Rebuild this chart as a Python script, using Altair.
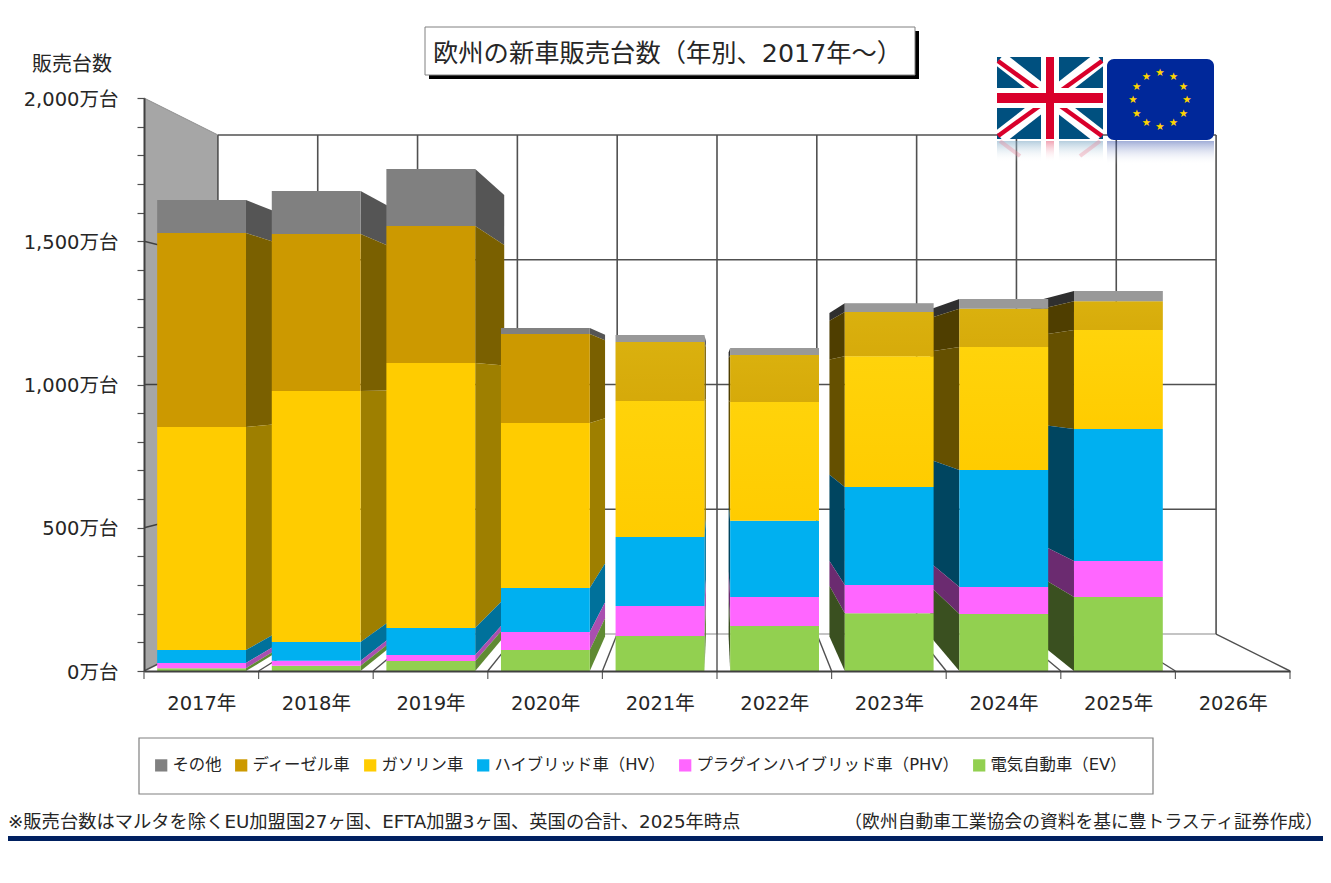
import math
import altair as alt
import pandas as pd

FONT = "DejaVu Sans, Noto Sans CJK JP"

years = [2017, 2018, 2019, 2020, 2021, 2022, 2023, 2024, 2025, 2026]
ev     = [10, 18, 35, 73, 122, 157, 202, 199, 258]
phv    = [18, 18, 21, 63, 105, 101, 98, 94, 126]
hv     = [45, 65, 94, 154, 241, 266, 342, 409, 461]
petrol = [779, 876, 925, 576, 474, 415, 457, 429, 345]
diesel = [677, 548, 478, 310, 206, 164, 154, 133, 101]
other  = [115, 150, 199, 21, 25, 24, 31, 34, 35]

names = ["その他", "ディーゼル車", "ガソリン車", "ハイブリッド車（HV）",
         "プラグインハイブリッド車（PHV）", "電気自動車（EV）"]
colors = ["#808080", "#CC9900", "#FFCC00", "#00B0F0", "#FF66FF", "#92D050"]
side_right = ["#555555", "#7A6000", "#9E7F00", "#00719B", "#A94FB0", "#5F8A33"]
side_left = ["#2F2F2F", "#4F3E00", "#655000", "#004560", "#6B2B70", "#3A5020"]
y_ticks = list(range(0, 2001, 100))

W, H = 1146, 573
OX, OY = 144, 98
BAR_L, BAR_R = 0.115, 0.89
VX, VY = 5.0, 1000.0
BACK, DEPTH = 0.871, 0.88

xs = alt.Scale(domain=[0, 10], nice=False, zero=False)
ys = alt.Scale(domain=[0, 2000], nice=False, zero=False)

x_axis = alt.Axis(
    values=[i + 0.5 for i in range(len(years))], title=None, grid=False, ticks=False,
    labelExpr="toString(2017 + floor(datum.value)) + '年'",
    labelFont=FONT, labelFontSize=19.5, labelColor="#262626", labelPadding=23,
    domainColor="#404040", domainWidth=2, zindex=1, labelFlush=False, labelOverlap=False)
y_axis = alt.Axis(
    values=y_ticks, title=None, grid=False, tickSize=7, tickColor="#505050", tickWidth=1.2,
    labelExpr="datum.value % 500 == 0 ? format(datum.value, ',') + '万台' : ''",
    labelFont=FONT, labelFontSize=19.5, labelColor="#262626", labelPadding=19, labelOffset=1,
    domainColor="#404040", domainWidth=2, zindex=1, labelOverlap=False, labelFlush=False)


def px(v):
    return alt.value(v - OX)


def py(v):
    return alt.value(v - OY)


def pr_x(x, s):
    return VX + (x - VX) * s


def pr_y(y, s):
    return VY + (y - VY) * s


# stacked segments, bottom to top
stack = list(zip(names[::-1], [ev, phv, hv, petrol, diesel, other],
                 side_right[::-1], side_left[::-1]))
front_rows, side_rows = [], []
for i in range(9):
    base = 0
    for name, vals, c_r, c_l in stack:
        lo, hi = base, base + vals[i]
        base = hi
        front_rows.append(dict(x=i + BAR_L, x2=i + BAR_R, y=lo, y2=hi, series=name))
        edge = i + BAR_R if i + 0.5 < VX else i + BAR_L
        shade = c_r if i + 0.5 < VX else c_l
        for s in (1.0, DEPTH):
            side_rows.append(dict(x=pr_x(edge, s), y=pr_y(lo, s), y2=pr_y(hi, s),
                                  seg=f"{i}-{name}", shade=shade))
front = pd.DataFrame(front_rows)
sides = pd.DataFrame(side_rows)

X = alt.X("x:Q", scale=xs, axis=x_axis)
X2 = alt.X2("x2:Q")
Y = alt.Y("y:Q", scale=ys, axis=y_axis, stack=None)
Y2 = alt.Y2("y2:Q")


def rules(rows, color, width):
    return alt.Chart(pd.DataFrame(rows)).mark_rule(color=color, strokeWidth=width).encode(x=X, x2=X2, y=Y, y2=Y2)


# left wall
wall = pd.DataFrame([
    dict(x=0, y=0, y2=2000),
    dict(x=pr_x(0, BACK), y=pr_y(0, BACK), y2=pr_y(2000, BACK)),
])
layers = [alt.Chart(wall).mark_area(color="#A6A6A6", orient="vertical").encode(x=X, y=Y, y2=Y2)]

# back wall and floor
bx0, bx1 = pr_x(0, BACK), pr_x(10, BACK)
grid_h = [dict(x=bx0, x2=bx1, y=pr_y(v, BACK), y2=pr_y(v, BACK)) for v in (500, 1000, 1500, 2000)]
grid_v = [dict(x=pr_x(i, BACK), x2=pr_x(i, BACK), y=pr_y(0, BACK), y2=pr_y(2000, BACK)) for i in range(11)]
floor = [dict(x=i, x2=pr_x(i, BACK), y=0, y2=pr_y(0, BACK)) for i in range(11)]
wall_g = [dict(x=0, x2=bx0, y=v, y2=pr_y(v, BACK)) for v in (500, 1000, 1500)]
layers += [
    rules([dict(x=bx0, x2=bx1, y=pr_y(0, BACK), y2=pr_y(0, BACK))], "#B0B0B0", 1.5),
    rules(grid_h + grid_v, "#505050", 1.6),
    rules(floor, "#505050", 1.4),
    rules(wall_g, "#404040", 1.4),
    rules([dict(x=0, x2=bx0, y=2000, y2=pr_y(2000, BACK))], "#909090", 1),
]

# side faces
for shade in side_right + side_left:
    d = sides[sides["shade"] == shade]
    layers.append(alt.Chart(d).mark_area(color=shade, orient="vertical").encode(
        x=X, y=Y, y2=Y2, detail="seg:N"))

# front faces
legend = alt.Legend(
    orient="none", legendX=153 - OX, legendY=757 - OY, columns=6, title=None,
    symbolType="square", symbolSize=150, symbolStrokeWidth=0, symbolOpacity=1,
    labelFont=FONT, labelFontSize=16.4, labelColor="#262626", labelLimit=400,
    columnPadding=11, labelOffset=3, padding=0,
)
front_chart = alt.Chart(front).mark_bar().encode(
    x=X, x2=X2, y=Y, y2=Y2,
    color=alt.Color("series:N", scale=alt.Scale(domain=names, range=colors), legend=legend),
)
layers.append(front_chart)

# soft sheen on the later bars: diesel and petrol get a warm glow, "other" a pale one
sheen_rows, pale_rows = [], []
for i in range(4, 9):
    below = ev[i] + phv[i] + hv[i]
    top = below + petrol[i] + diesel[i]
    sheen_rows.append(dict(x=i + BAR_L, x2=i + BAR_R, y=top, y2=below))
    pale_rows.append(dict(x=i + BAR_L, x2=i + BAR_R, y=top + other[i], y2=top))
sheen_grad = alt.Gradient(
    gradient="linear", x1=0, x2=0, y1=0, y2=1,
    stops=[alt.GradientStop(color="rgba(255,238,50,0.28)", offset=0),
           alt.GradientStop(color="rgba(255,238,50,0)", offset=1)])
layers.append(alt.Chart(pd.DataFrame(sheen_rows)).mark_bar(color=sheen_grad).encode(x=X, x2=X2, y=Y, y2=Y2))
layers.append(alt.Chart(pd.DataFrame(pale_rows)).mark_bar(color="#FFFFFF", opacity=0.2).encode(x=X, x2=X2, y=Y, y2=Y2))

# x ticks
tick_df = pd.DataFrame({"x": list(range(11))})
layers.append(alt.Chart(tick_df).mark_rule(color="#606060", strokeWidth=1.2).encode(
    x=X, y=py(671), y2=py(679)))

one = pd.DataFrame({"a": [0]})


def box(x0, x1, y0, y1, color, **kw):
    return alt.Chart(one).mark_rect(color=color, **kw).encode(x=px(x0), x2=px(x1), y=py(y0), y2=py(y1))


def line(x0, y0, x1, y1, color, width, **kw):
    return alt.Chart(one).mark_rule(color=color, strokeWidth=width, **kw).encode(
        x=px(x0), x2=px(x1), y=py(y0), y2=py(y1))


def label(x, y, text, size, align="left", color="#262626"):
    return alt.Chart(one).mark_text(text=text, font=FONT, fontSize=size, align=align,
                                    baseline="middle", color=color).encode(x=px(x), y=py(y))


def fade(color):
    return alt.Gradient(gradient="linear", x1=0, x2=0, y1=0, y2=1,
                        stops=[alt.GradientStop(color=color, offset=0),
                               alt.GradientStop(color="rgba(255,255,255,0)", offset=1)])


# title box
layers += [
    box(429, 919, 31, 79, "#000000"),
    box(425, 915, 27, 75, "#FFFFFF", stroke="#808080", strokeWidth=1),
    label(433, 54, "欧州の新車販売台数（年別、2017年～）", 25.3),
    label(32, 65, "販売台数", 20),
]

# UK flag
L, R, T, B = 997, 1103, 57, 139
layers += [
    box(L, R, T, B, "#00507F"),
    line(L + 3, T + 2, R - 3, B - 2, "#FFFFFF", 15),
    line(L + 3, B - 2, R - 3, T + 2, "#FFFFFF", 15),
    line(L + 1, T + 4, R - 1, B - 3, "#D9002B", 4.5),
    line(L + 1, B - 3, R - 1, T + 4, "#D9002B", 4.5),
    box(1041, 1059, T, B, "#FFFFFF"),
    box(L, R, 88, 108, "#FFFFFF"),
    box(1046, 1054, T, B, "#D9002B"),
    box(L, R, 93, 103, "#D9002B"),
    box(L, 1041, 141, 162, fade("rgba(120,165,195,0.55)")),
    box(1059, R, 141, 162, fade("rgba(120,165,195,0.55)")),
    box(1046, 1054, 141, 162, fade("rgba(230,90,120,0.55)")),
    line(1000, 141, 1020, 156, "rgba(235,130,150,0.35)", 4),
    line(1100, 141, 1080, 156, "rgba(235,130,150,0.35)", 4),
]

# EU flag
layers += [
    box(1107, 1214, 141, 165, fade("rgba(30,60,160,0.42)")),
    box(1107, 1214, 59, 140, "#00289A", cornerRadius=7),
]
for k in range(12):
    a = math.radians(30 * k)
    layers.append(label(1160 + 27 * math.sin(a), 100 - 27 * math.cos(a), "★", 10.5, "center", "#FFD400"))

# legend frame goes first so the legend sits on it
layers.insert(0, box(139, 1153, 738, 794, "#FFFFFF", stroke="#808080", strokeWidth=1.2))

# footnotes and rule
layers += [
    label(8, 823, "※販売台数はマルタを除くEU加盟国27ヶ国、EFTA加盟3ヶ国、英国の合計、2025年時点", 18.3),
    label(1323, 823, "（欧州自動車工業協会の資料を基に豊トラスティ証券作成）", 17.8, "right"),
    box(8, 1323, 836, 841, "#002060"),
]

chart = alt.layer(*layers).properties(
    width=W, height=H,
    padding={"left": OX - 8, "top": OY - 8, "right": 1315 - (OX - 8) - W, "bottom": 860 - (OY - 8) - H},
    autosize=alt.AutoSizeParams(type="none"),
    background="#FFFFFF",
).configure_view(stroke=None)

chart.save("out.html", embed_options={"renderer": "svg", "actions": False})
